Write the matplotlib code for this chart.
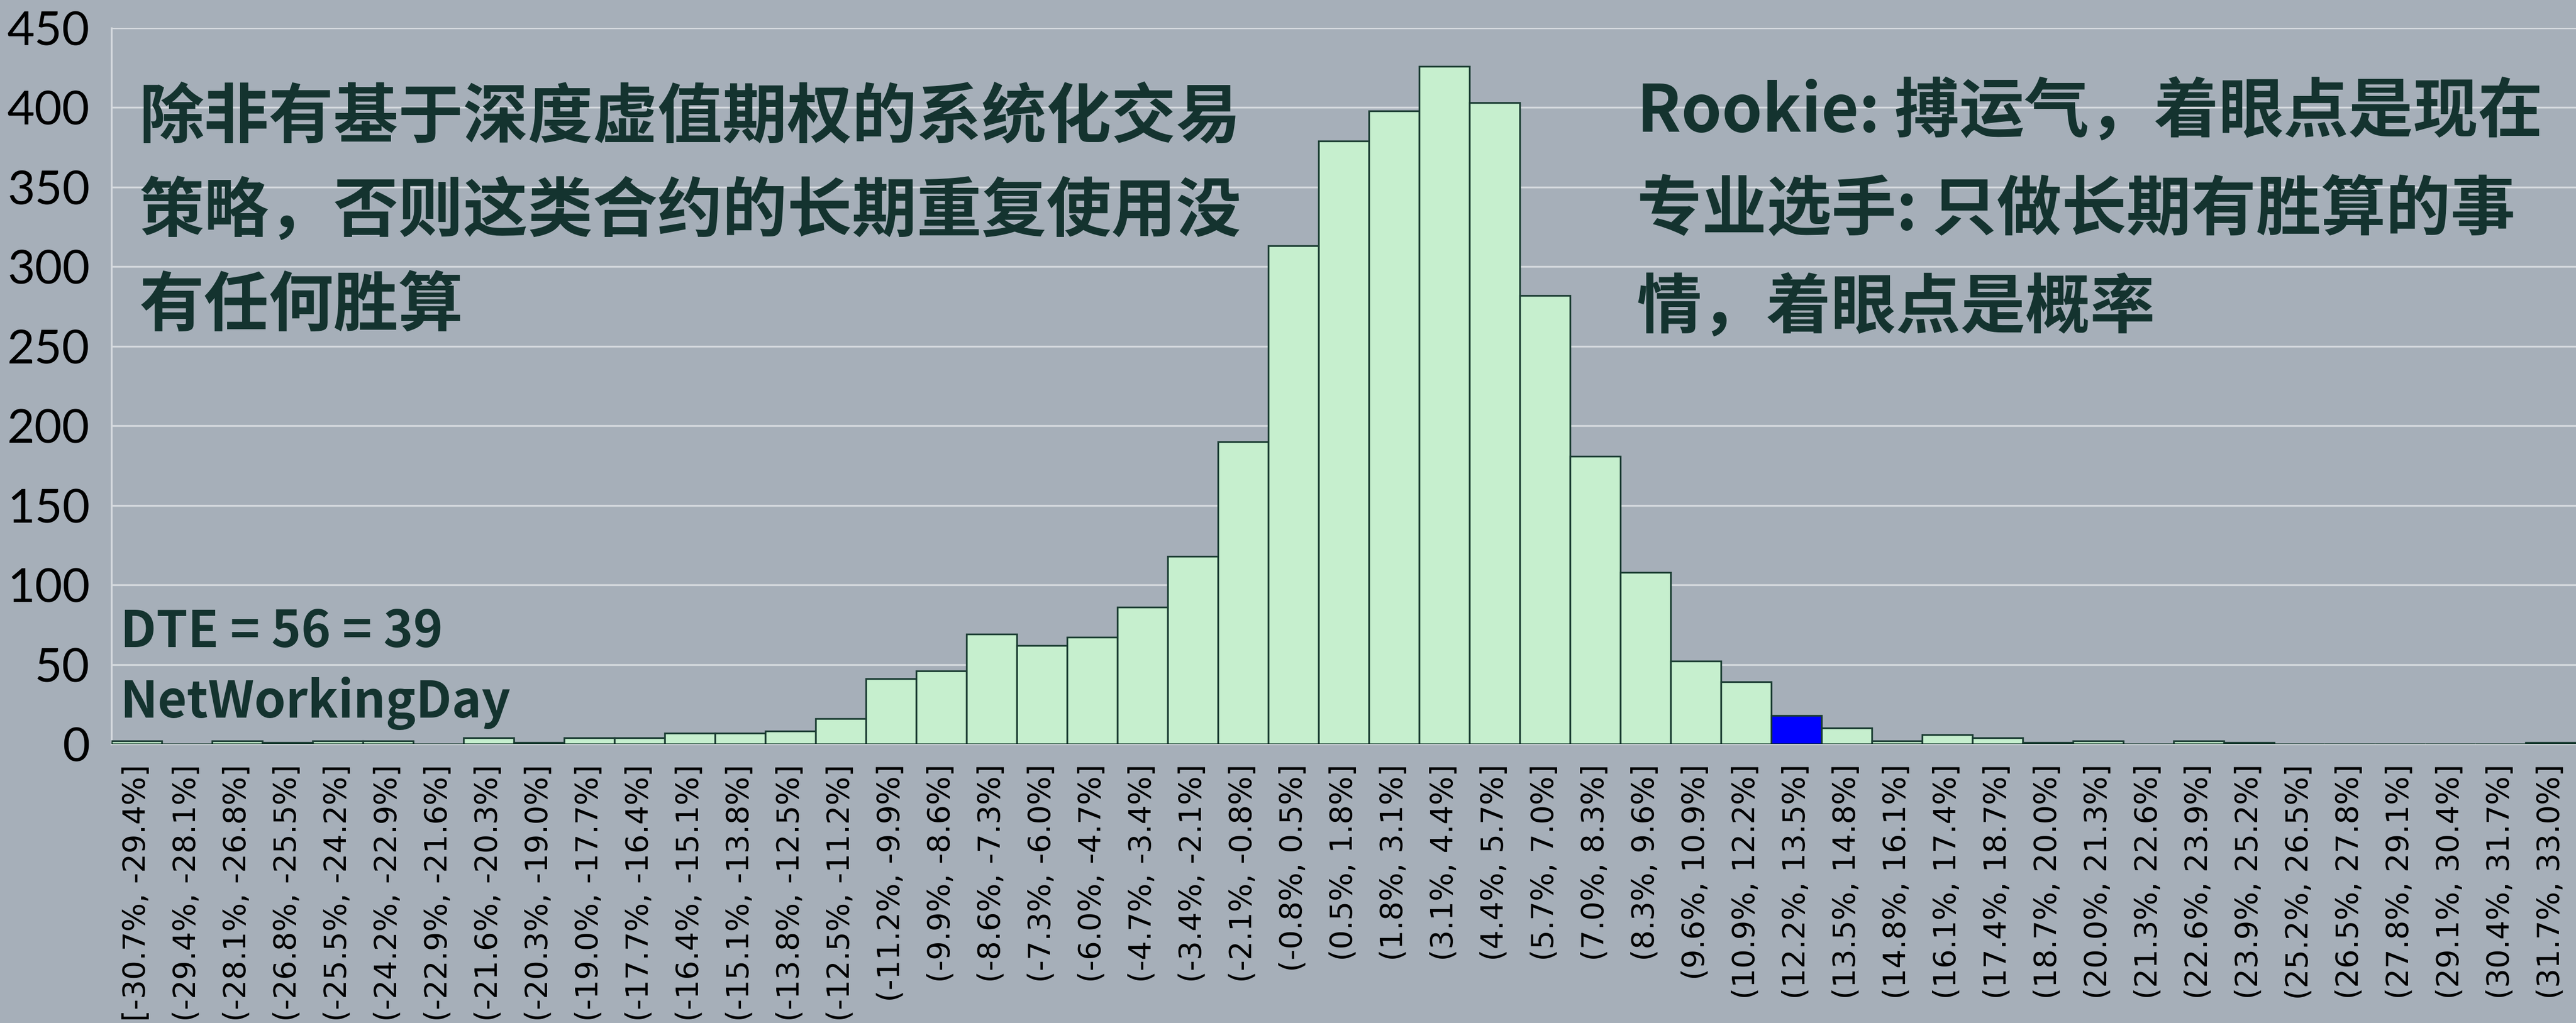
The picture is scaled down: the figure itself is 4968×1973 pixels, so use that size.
import matplotlib
matplotlib.use("Agg")
import matplotlib.pyplot as plt

# 收益分布（区间边界 -30.7% 到 33.0%，步长 1.3%）
edges = [-30.7, -29.4, -28.1, -26.8, -25.5, -24.2, -22.9, -21.6, -20.3, -19.0,
         -17.7, -16.4, -15.1, -13.8, -12.5, -11.2, -9.9, -8.6, -7.3, -6.0,
         -4.7, -3.4, -2.1, -0.8, 0.5, 1.8, 3.1, 4.4, 5.7, 7.0,
         8.3, 9.6, 10.9, 12.2, 13.5, 14.8, 16.1, 17.4, 18.7, 20.0,
         21.3, 22.6, 23.9, 25.2, 26.5, 27.8, 29.1, 30.4, 31.7, 33.0]
counts = [2, 0, 2, 1, 2, 2, 0, 4, 1, 4,
          4, 7, 7, 8, 16, 41, 46, 69, 62, 67,
          86, 118, 190, 313, 379, 398, 426, 403, 282, 181,
          108, 52, 39, 18, 10, 2, 6, 4, 1, 2,
          0, 2, 1, 0, 0, 0, 0, 0, 1]
highlight = 33  # (12.2%, 13.5%]

labels = []
for i in range(len(counts)):
    left = '[' if i == 0 else '('
    labels.append('%s%.1f%%, %.1f%%]' % (left, edges[i], edges[i + 1]))

bg = '#a6afb9'
txt_color = '#14332f'
grid_color = '#d6dadf'

fig = plt.figure(figsize=(49.68, 19.73), dpi=100, facecolor=bg)
ax = fig.add_axes([215 / 4968, 1 - 1435 / 1973, (4968 - 215) / 4968, (1435 - 54) / 1973])
ax.set_facecolor(bg)

colors = ['#c6efce'] * len(counts)
colors[highlight] = '#0000ff'
x = list(range(len(counts)))
ax.bar(x, counts, width=1.0, color=colors, edgecolor='#1b3d33', linewidth=2.4, zorder=3)

ax.set_xlim(-0.5, len(counts) - 0.5)
ax.set_ylim(0, 450)
ax.set_yticks(range(0, 451, 50))
ax.yaxis.grid(True, color=grid_color, linewidth=2.5, zorder=0)
ax.set_axisbelow(True)
for s in ['top', 'right']:
    ax.spines[s].set_visible(False)
for s in ['left', 'bottom']:
    ax.spines[s].set_color(grid_color)
    ax.spines[s].set_linewidth(2.5)

ax.set_xticks(x)
ax.set_xticklabels(labels, rotation=90, fontsize=42, family='DejaVu Sans')
ax.tick_params(axis='x', length=0, pad=28)
ax.tick_params(axis='y', length=0, pad=30, labelsize=66)
for t in ax.get_yticklabels():
    t.set_family('Lato')

cjk = ['Noto Sans CJK SC', 'DejaVu Sans']
# 左上注释
fig.text(0.0541, 0.917,
         '除非有基于深度虚值期权的系统化交易\n策略，否则这类合约的长期重复使用没\n有任何胜算',
         family=cjk, fontsize=90, fontweight='bold', color=txt_color,
         va='top', ha='left', linespacing=1.55)
# 右上注释
fig.text(0.6355, 0.922,
         'Rookie: 搏运气，着眼点是现在\n专业选手: 只做长期有胜算的事\n情，着眼点是概率',
         family=cjk, fontsize=90, fontweight='bold', color=txt_color,
         va='top', ha='left', linespacing=1.62)
fig.text(0.0466, 0.407, 'DTE = 56 = 39\nNetWorkingDay',
         family=cjk, fontsize=70, fontweight='bold', color=txt_color,
         va='top', ha='left', linespacing=1.45)

fig.savefig('out.png', dpi=100, facecolor=bg)
